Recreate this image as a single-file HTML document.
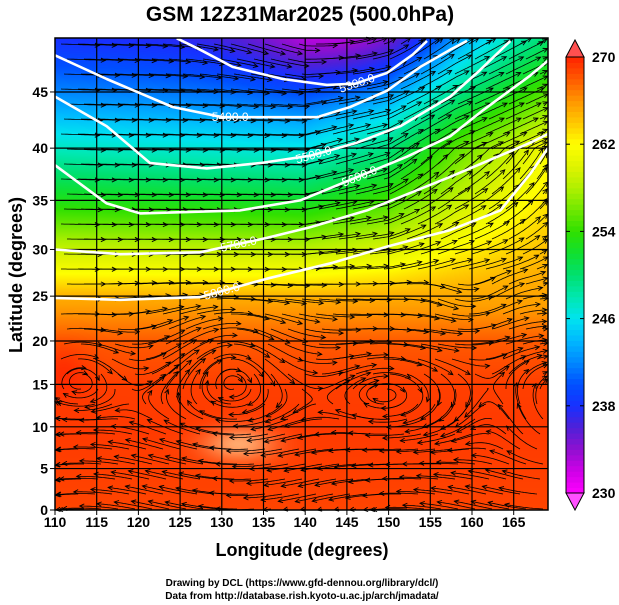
<!DOCTYPE html>
<html><head><meta charset="utf-8"><style>
html,body{margin:0;padding:0;background:#fff;}
#wrap{position:relative;width:619px;height:605px;overflow:hidden;font-family:"Liberation Sans",sans-serif;}
canvas{position:absolute;left:0;top:0;}
svg{position:absolute;left:0;top:0;}
</style></head><body>
<div id="wrap">
<canvas id="cv" width="619" height="605"></canvas>
<svg id="sv" width="619" height="605">
<text x="300" y="21" text-anchor="middle" font-size="21" font-weight="bold">GSM 12Z31Mar2025 (500.0hPa)</text>
<text x="302" y="556" text-anchor="middle" font-size="18" font-weight="bold">Longitude (degrees)</text>
<text transform="translate(22,275) rotate(-90)" text-anchor="middle" font-size="18" font-weight="bold">Latitude  (degrees)</text>
<text x="302" y="586" text-anchor="middle" font-size="10" font-weight="bold">Drawing by DCL (https://www.gfd-dennou.org/library/dcl/)</text>
<text x="302" y="599" text-anchor="middle" font-size="10" font-weight="bold">Data from http://database.rish.kyoto-u.ac.jp/arch/jmadata/</text>
<g id="stream"></g>
<g id="grid"></g>
<g id="cont"></g>
<g id="axes"></g>
<g id="cbar"></g>
</svg>
</div>
<script>
// ---- data ----
const lonTicks=[110,115,120,125,130,135,140,145,150,155,160,165];
const latTicks=[0,5,10,15,20,25,30,35,40,45];
const cbTicks=[270,262,254,246,238,230];
const cmapT=[230,232,234,236,238,240,242,244,246,248,250,252,254,256,258,260,262,264,266,268,270];
const cmapC=["#ff00ff","#d000e8","#9010d0","#5020d8","#1830ff","#0050ff","#0088ff","#00b8ff","#00e4f0","#00e8b0","#00e070","#10e030","#30e000","#70e800","#b0f000","#e0f400","#ffff00","#ffc800","#ff9600","#ff5a00","#ff2400"];
const profLat=[0,10,15,20,25,30,35,40,45,50,55];
const profT=[268.8,269.2,269,268,265,259,253,247.5,242,237.5,234];
const shiftLon=[110,140,150,158,169];
const shiftVal=[0,-1,2,7,12];
const contLevels=["5300.0","5400.0","5500.0","5600.0","5700.0","5800.0"];
const contLon=[
 [124.6,127.4,131.3,137.3,142.6,146.0,149.8,152.9,154.6],
 [109.8,116.2,124.1,130.1,134.6,141.4,145.4,149.8,153.8,157.4,159.4],
 [110,116.2,121.4,128.2,134.6,140.6,146.2,151.4,157.4,160.9,164.6],
 [110,116.2,120.2,132.2,139.4,145.4,152.2,157.4,161.3,167,169.1],
 [110,117.8,127.4,135.4,140.6,147.4,157.4,167,169.1],
 [110,117.8,127.4,135.4,143.3,149.8,157.4,163.4,167,169.1]];
const contLat=[
 [49.4,48.5,47.1,46.1,45.6,45.7,46.6,48.1,49.2],
 [48.1,46.1,43.7,42.8,42.8,42.8,43.7,45.1,47.1,48.5,49.2],
 [44.6,42.0,38.6,38.1,38.6,39.3,40.5,42.0,44.6,46.8,49.2],
 [38.4,34.7,33.7,34.0,35.0,37.0,39.2,41.1,43.4,46.4,47.6],
 [30.0,29.5,29.7,31.2,32.3,34.0,37.3,40.5,41.3],
 [24.8,24.6,24.9,26.9,28.6,30.3,32.0,34.0,37.6,40.0]];
const labelLon=[146.2,131.0,141.0,146.5,132.0,130.0];

// ---- scales ----
const X0=55,X1=548,Y0=38,Y1=510;
function X(lon){return 55+(lon-110)*8.34;}
function merc(lat){const r=lat*Math.PI/180;return Math.log(Math.tan(Math.PI/4+r/2));}
function Y(lat){return 510-474.3*merc(lat);}
function invLon(x){return 110+(x-55)/8.34;}
function invLat(y){return Math.asin(Math.tanh((510-y)/474.3))*180/Math.PI;}
function interp(xs,ys,x){if(x<=xs[0])return ys[0];for(let i=1;i<xs.length;i++){if(x<=xs[i]){const t=(x-xs[i-1])/(xs[i]-xs[i-1]);return ys[i-1]+t*(ys[i]-ys[i-1]);}}return ys[ys.length-1];}
function hex(c){return [parseInt(c.substr(1,2),16),parseInt(c.substr(3,2),16),parseInt(c.substr(5,2),16)];}
const cm=cmapC.map(hex);
function color(T){T=Math.max(230,Math.min(270,T));let i=0;while(i<cmapT.length-2&&T>cmapT[i+1])i++;const t=(T-cmapT[i])/(cmapT[i+1]-cmapT[i]);const a=cm[i],b=cm[i+1];return [a[0]+t*(b[0]-a[0]),a[1]+t*(b[1]-a[1]),a[2]+t*(b[2]-a[2])];}
function temp(lon,lat){
 const f=Math.min(1,Math.max(0,(lat-24)/16));
 const le=lat-interp(shiftLon,shiftVal,lon)*f;
 let T=interp(profLat,profT,le);
 T-=6*Math.exp(-((lon-146)*(lon-146)/150+(lat-51)*(lat-51)/30));
 T+=1.0*Math.exp(-((lon-111)*(lon-111)/10+(lat-17)*(lat-17)/10));
 return T;}

// ---- field ----
const cv=document.getElementById('cv'),ctx=cv.getContext('2d');
const img=ctx.createImageData(X1-X0,Y1-Y0);
for(let y=Y0;y<Y1;y++){const lat=invLat(y);for(let x=X0;x<X1;x++){const lon=invLon(x);let c=color(temp(lon,lat));
 const p=Math.exp(-((lon-132)*(lon-132)/18+(lat-8)*(lat-8)/4));c=[c[0],c[1]+110*p,c[2]+110*p];
 const k=((y-Y0)*(X1-X0)+(x-X0))*4;img.data[k]=c[0];img.data[k+1]=c[1];img.data[k+2]=c[2];img.data[k+3]=255;}}
ctx.putImageData(img,X0,Y0);

const NS='http://www.w3.org/2000/svg';
function el(t,a,p){const e=document.createElementNS(NS,t);for(const k in a)e.setAttribute(k,a[k]);p.appendChild(e);return e;}

// ---- streamlines ----
function vortex(lon,lat,cx,cy,s,r){const dx=lon-cx,dy=lat-cy,d2=dx*dx+dy*dy;const w=s*Math.exp(-d2/(r*r));return [-dy*w,dx*w];}
function wind(lon,lat){
 const e=0.2;let gx=(temp(lon+e,lat)-temp(lon-e,lat))/(2*e),gy=(temp(lon,lat+e)-temp(lon,lat-e))/(2*e);
 let u=-gy,v=gx;const m=Math.hypot(u,v)+1e-6;u/=m;v/=m;
 const wN=Math.min(1,Math.max(0,(lat-22)/6));
 const sgm=1/(1+Math.exp(-(lat-13)/2.5));
 let us=-0.7+1.4*sgm,vs=0.15*Math.sin(lon/6);
 let a;
 a=vortex(lon,lat,160,27.5,0.9,4);us+=a[0];vs+=a[1];
 a=vortex(lon,lat,131,18,-0.12,6);us+=a[0];vs+=a[1];
 a=vortex(lon,lat,113,17,-0.2,5);us+=a[0];vs+=a[1];
 a=vortex(lon,lat,150,15,-0.1,7);us+=a[0];vs+=a[1];
 a=vortex(lon,lat,163,12,0.1,6);us+=a[0];vs+=a[1];
 return [wN*u+(1-wN)*us, wN*v+(1-wN)*vs];}
const sg=document.getElementById('stream');
for(let sy=Y0+6;sy<Y1;sy+=15){for(let sx=X0+4;sx<X1;sx+=17){
 let x=sx+((sy*7)%9),y=sy;const pts=[[x,y]];
 for(let i=0;i<24;i++){const w=wind(invLon(x),invLat(y));const m=Math.hypot(w[0],w[1])+1e-6;x+=1.6*w[0]/m;y-=1.6*w[1]/m;if(x<X0||x>X1||y<Y0||y>Y1)break;pts.push([x,y]);}
 if(pts.length<4)continue;
 const p=el('path',{d:'M'+pts.map(q=>q[0].toFixed(1)+','+q[1].toFixed(1)).join('L'),fill:'none',stroke:'#000','stroke-width':'0.8'},sg);
 
 
 const a=pts[pts.length-1],b=pts[pts.length-3];const ang=Math.atan2(a[1]-b[1],a[0]-b[0]);
 const h=el('path',{d:`M${a[0]-5*Math.cos(ang-0.45)},${a[1]-5*Math.sin(ang-0.45)}L${a[0]},${a[1]}L${a[0]-5*Math.cos(ang+0.45)},${a[1]-5*Math.sin(ang+0.45)}`,fill:'none',stroke:'#000','stroke-width':'0.9'},sg);
 
 
}}

// ---- grid ----
const gg=document.getElementById('grid');
lonTicks.forEach(l=>{if(l===110)return;const g=el('line',{x1:X(l),x2:X(l),y1:Y0,y2:Y1,stroke:'#000','stroke-width':'1.2'},gg);});
latTicks.forEach(l=>{if(l===0)return;const g=el('line',{x1:X0,x2:X1,y1:Y(l),y2:Y(l),stroke:'#000','stroke-width':'1.2'},gg);});

// ---- contours ----
const cg=document.getElementById('cont');
contLevels.forEach((lv,i)=>{
 const d='M'+contLon[i].map((lo,j)=>X(lo).toFixed(1)+','+Y(contLat[i][j]).toFixed(1)).join('L');
 const p=el('path',{d:d,fill:'none',stroke:'#fff','stroke-width':'2.6','stroke-linejoin':'round'},cg);
 
 
 const ll=labelLon[i],la=interp(contLon[i],contLat[i],ll);
 const la2=interp(contLon[i],contLat[i],ll+1);const ang=Math.atan2(Y(la2)-Y(la),X(ll+1)-X(ll))*180/Math.PI;
 const t=el('text',{x:0,y:4,'text-anchor':'middle','font-size':'12',fill:'#fff',transform:`translate(${X(ll)},${Y(la)}) rotate(${ang})`},cg);
 t.textContent=lv;
 
 
});

// ---- axes ----
const ag=document.getElementById('axes');
el('rect',{x:X0,y:Y0,width:X1-X0,height:Y1-Y0,fill:'none',stroke:'#000','stroke-width':'1.5'},ag);
lonTicks.forEach(l=>{const t=el('text',{x:X(l),y:527,'text-anchor':'middle','font-size':'14','font-weight':'bold'},ag);t.textContent=l;
 el('line',{x1:X(l),x2:X(l),y1:Y1,y2:Y1+5,stroke:'#000'},ag);});
latTicks.forEach(l=>{const t=el('text',{x:48,y:Y(l)+5,'text-anchor':'end','font-size':'14','font-weight':'bold'},ag);t.textContent=l;
 el('line',{x1:X0-5,x2:X0,y1:Y(l),y2:Y(l),stroke:'#000'},ag);});

// ---- colorbar ----
const bg=document.getElementById('cbar');
const CBx=566,CBw=18,CBt=57,CBb=493;
function CY(T){return CBb-(T-230)/40*(CBb-CBt);}
for(let T=230;T<270;T+=0.5){const c=color(T+0.25);el('rect',{x:CBx,y:CY(T+0.5),width:CBw,height:(CBb-CBt)/80+0.5,fill:`rgb(${c[0]|0},${c[1]|0},${c[2]|0})`},bg);}
const tu=el('path',{d:`M${CBx},${CBt}L${CBx+CBw/2},${CBt-17}L${CBx+CBw},${CBt}Z`,fill:'#ff5050',stroke:'#000','stroke-width':'1'},bg);

const td=el('path',{d:`M${CBx},${CBb}L${CBx+CBw/2},${CBb+17}L${CBx+CBw},${CBb}Z`,fill:'#ff50ff',stroke:'#000','stroke-width':'1'},bg);

el('rect',{x:CBx,y:CBt,width:CBw,height:CBb-CBt,fill:'none',stroke:'#000','stroke-width':'1'},bg);
cbTicks.forEach(v=>{const t=el('text',{x:592,y:CY(v)+5,'font-size':'14','font-weight':'bold'},bg);t.textContent=v;
 el('line',{x1:CBx,x2:CBx+4,y1:CY(v),y2:CY(v),stroke:'#000'},bg);el('line',{x1:CBx+CBw-4,x2:CBx+CBw,y1:CY(v),y2:CY(v),stroke:'#000'},bg);});
</script>
</body></html>
